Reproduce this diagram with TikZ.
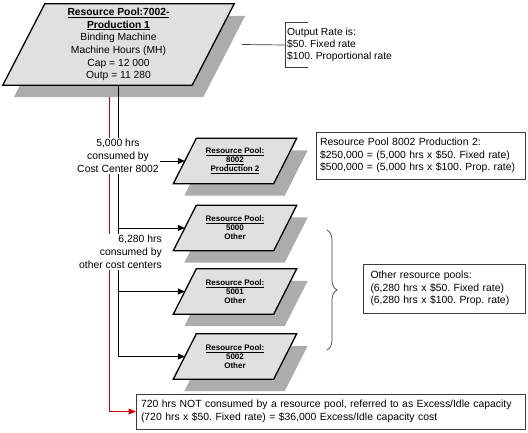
\documentclass[tikz,border=0pt]{standalone}
\usepackage{fontspec}
\setmainfont{Liberation Sans}
\usetikzlibrary{calc,arrows.meta,decorations.pathreplacing}
\pgfdeclarelayer{background}
\pgfdeclarelayer{lines}
\pgfsetlayers{background,lines,main}
\definecolor{shapefill}{RGB}{224,224,224}
\definecolor{shadowgray}{RGB}{172,172,172}
\definecolor{boxline}{RGB}{60,60,60}
\definecolor{redline}{RGB}{204,0,0}
\tikzset{
  pgtext/.style={inner sep=0pt, align=center},
  pgshape/.style={fill=shapefill, draw=black, line width=1.3pt, line join=miter},
  pgshade/.style={fill=shadowgray},
  conn/.style={draw=black, line width=0.9pt},
  arr/.style={conn, -{Triangle[length=7pt,width=6pt]}},
  redarr/.style={draw=redline, line width=0.9pt, -{Triangle[length=7pt,width=6pt]}},
  lbl/.style={fill=white, inner sep=1.5pt, font=\fontsize{10.4}{12.9}\selectfont},
  infobox/.style={draw=boxline, line width=0.7pt, align=left, font=\fontsize{10.4}{12.6}\selectfont},
  thinline/.style={draw=boxline, line width=0.7pt},
  bigfont/.style={font=\fontsize{10.3}{12.7}\selectfont},
  smallfont/.style={font=\fontsize{8}{9}\selectfont\bfseries},
}
\newcommand\pgramnode[5]{%
  \node[pgtext,#3] (#1) at (#4) {#5};
  \begin{pgfonlayer}{background}
    \path[pgshade] ($(#1.north west)+(#2+11,12)$) -- ($(#1.north east)+(#2+11,12)$)
      -- ($(#1.south east)+(-#2+11,12)$) -- ($(#1.south west)+(-#2+11,12)$) -- cycle;
    \path[pgshape] ($(#1.north west)+(#2,0)$) -- ($(#1.north east)+(#2,0)$)
      -- ($(#1.south east)+(-#2,0)$) -- ($(#1.south west)+(-#2,0)$) -- cycle;
  \end{pgfonlayer}
}
\frenchspacing
\begin{document}
\begin{tikzpicture}[x=1pt,y=-1pt]
\useasboundingbox (0,0) rectangle (528,433);
\begin{pgfonlayer}{background}
  \fill[white] (0,0) rectangle (528,433);
\end{pgfonlayer}

% parallelograms
\pgramnode{main}{21}{bigfont, minimum width=189pt, minimum height=81pt}{118.5,44.5}
  {\underline{\textbf{Resource Pool:7002-}}\\\underline{\textbf{Production 1}}\\Binding Machine\\Machine Hours (MH)\\Cap = 12 000\\Outp = 11 280}
\pgramnode{p8002}{11.5}{smallfont, minimum width=100pt, minimum height=45pt}{235,161}
  {\underline{Resource Pool:}\\\underline{8002}\\\underline{Production 2}}
\pgramnode{p5000}{11.5}{smallfont, minimum width=100pt, minimum height=45pt}{235,228}
  {\underline{Resource Pool:}\\5000\\Other}
\pgramnode{p5001}{11.5}{smallfont, minimum width=100pt, minimum height=45pt}{235,291.5}
  {\underline{Resource Pool:}\\5001\\Other}
\pgramnode{p5002}{11.5}{smallfont, minimum width=100pt, minimum height=45pt}{235,356.5}
  {\underline{Resource Pool:}\\5002\\Other}

% labels on the trunk
\node[lbl, align=center] (lab1) at (118,156) {5,000 hrs\\consumed by\\Cost Center 8002};
\node[lbl, align=right, anchor=east] (lab2) at (163.5,252) {6,280 hrs\\consumed by\\other cost centers};

% info boxes
\node[infobox, text width=201pt, inner xsep=4pt, minimum height=47pt] (r8002) at (420.5,155.5)
  {Resource Pool 8002 Production 2:\\\$250,000 = (5,000 hrs x \$50. Fixed rate)\\\$500,000 = (5,000 hrs x \$100. Prop. rate)};
\node[infobox, text width=147pt, inner xsep=7.5pt, minimum height=49pt] (rother) at (444,288.5)
  {Other resource pools:\\(6,280 hrs x \$50. Fixed rate)\\(6,280 hrs x \$100. Prop. rate)};
\node[infobox, text width=379pt, inner xsep=5pt, minimum height=35pt] (rexcess) at (330.5,411.5)
  {720 hrs NOT consumed by a resource pool, referred to as Excess/Idle capacity\\(720 hrs x \$50. Fixed rate) = \$36,000 Excess/Idle capacity cost};

% output rate annotation
\node[anchor=west, align=left, inner xsep=2pt, inner ysep=0pt, minimum height=44pt,
      font=\fontsize{10.3}{12.2}\selectfont] (orate) at (285,45)
  {Output Rate is:\\\$50. Fixed rate\\\$100. Proportional rate};
\coordinate (ostart) at (242,44.5);

% brace
\draw[thinline, decorate, decoration={brace, amplitude=10pt}] (327,230) -- (327,350);

\begin{pgfonlayer}{lines}
  \draw[arr] (main.south) |- (p5002.west);
  \draw[arr] (main.south |- p5000.west) -- (p5000.west);
  \draw[arr] (main.south |- p5001.west) -- (p5001.west);
  \draw[arr] (lab1.east |- p8002.west) -- (p8002.west);
  \coordinate (redstart) at ($(main.south)+(-9.5,12)$);
  \draw[redarr] (redstart) |- (rexcess.west);
  \draw[thinline] (ostart) -- (orate.west);
  \draw[thinline] ($(orate.north west)+(23,0)$) -- (orate.north west) -- (orate.south west) -- ++(23,0);
\end{pgfonlayer}
\end{tikzpicture}
\end{document}
